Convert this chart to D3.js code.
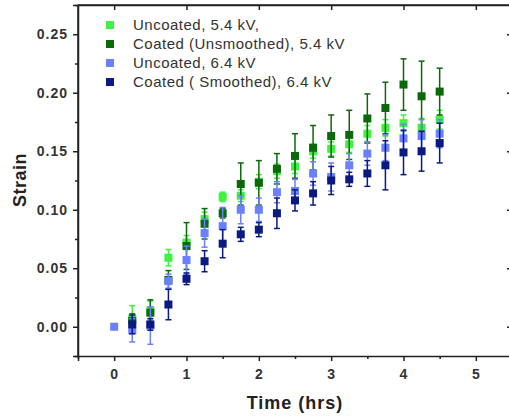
<!DOCTYPE html>
<html>
<head>
<meta charset="utf-8">
<script src="https://cdn.jsdelivr.net/npm/d3@7"></script>
<style>
  body { margin: 0; background: #fff; }
  svg text { font-family: "Liberation Sans", Arial, sans-serif; fill: #222; }
</style>
</head>
<body>
<div id="chart"></div>
<script>
var W = 509, H = 417;

// time points (hrs)
var times = [0, 0.25, 0.5, 0.75, 1, 1.25, 1.5, 1.75, 2, 2.25, 2.5, 2.75, 3, 3.25, 3.5, 3.75, 4, 4.25, 4.5];

var uncoated54 = [null, 0.007, 0.014, 0.059, 0.072, 0.092, 0.111, 0.112, 0.124, 0.133, 0.137, 0.150, 0.152, 0.156, 0.165, 0.170, 0.174, 0.170, 0.177];
var uncoated54Err = [null, 0.011, 0.008, 0.007, 0.006, 0.006, 0.004, 0.005, 0.006, 0.006, 0.006, 0.006, 0.006, 0.007, 0.007, 0.007, 0.007, 0.008, 0.008];

var coated54 = [null, 0.005, 0.012, 0.040, 0.069, 0.088, 0.097, 0.122, 0.123, 0.135, 0.146, 0.153, 0.163, 0.164, 0.178, 0.187, 0.207, 0.197, 0.201];
var coated54Err = [null, 0.006, 0.011, 0.008, 0.020, 0.013, 0.004, 0.018, 0.019, 0.013, 0.019, 0.019, 0.018, 0.021, 0.021, 0.022, 0.022, 0.030, 0.020];

var uncoated64 = [0.0, -0.003, 0.001, 0.039, 0.057, 0.080, 0.086, 0.100, 0.100, 0.115, 0.116, 0.131, 0.128, 0.138, 0.148, 0.153, 0.161, 0.163, 0.165];
var uncoated64Err = [0, 0.010, 0.016, 0.006, 0.012, 0.012, 0.016, 0.012, 0.010, 0.009, 0.010, 0.010, 0.012, 0.010, 0.010, 0.011, 0.012, 0.014, 0.012];

var coated64 = [null, 0.002, 0.002, 0.019, 0.041, 0.056, 0.071, 0.079, 0.083, 0.097, 0.108, 0.114, 0.125, 0.126, 0.131, 0.138, 0.149, 0.150, 0.157];
var coated64Err = [null, 0.008, 0.005, 0.013, 0.005, 0.009, 0.012, 0.006, 0.006, 0.013, 0.009, 0.010, 0.012, 0.006, 0.011, 0.021, 0.019, 0.017, 0.017];

var seriesNames = ["Uncoated, 5.4 kV,", "Coated (Unsmoothed), 5.4 kV", "Uncoated, 6.4 kV", "Coated ( Smoothed), 6.4 kV"];
var seriesColors = ["#3ff23f", "#0b690b", "#6a80ff", "#0a1a82"];
var seriesVals = [uncoated54, coated54, uncoated64, coated64];
var seriesErrs = [uncoated54Err, coated54Err, uncoated64Err, coated64Err];

var xTicks = [0, 1, 2, 3, 4, 5];
var yTicks = [0, 0.05, 0.10, 0.15, 0.20, 0.25];

var m = {left: 78, top: 5, right: 512, bottom: 356};

var x = d3.scaleLinear().domain([-0.5, 5.5]).range([m.left, m.right]);
var y = d3.scaleLinear().domain([-0.025, 0.275]).range([m.bottom, m.top]);

var svg = d3.select("#chart").append("svg")
    .attr("width", W)
    .attr("height", H);

// data
seriesVals.forEach(function(vals, s) {
    var pts = times.map(function(t, i) {
        return {t: t, v: vals[i], e: seriesErrs[s][i]};
    }).filter(function(d) { return d.v !== null; });

    var g = svg.append("g").attr("class", "series" + s);
    var col = seriesColors[s];

    g.selectAll("line.bar").data(pts).enter().append("line")
        .attr("class", "bar")
        .attr("x1", function(d) { return x(d.t); })
        .attr("x2", function(d) { return x(d.t); })
        .attr("y1", function(d) { return y(d.v - d.e); })
        .attr("y2", function(d) { return y(d.v + d.e); })
        .style("stroke", col).style("stroke-width", 1.5);

    [-1, 1].forEach(function(sign) {
        g.selectAll("line.cap" + sign).data(pts).enter().append("line")
            .attr("x1", function(d) { return x(d.t) - 3; })
            .attr("x2", function(d) { return x(d.t) + 3; })
            .attr("y1", function(d) { return y(d.v + sign * d.e); })
            .attr("y2", function(d) { return y(d.v + sign * d.e); })
            .style("stroke", col).style("stroke-width", 1.5);
    });

    g.selectAll("rect").data(pts).enter().append("rect")
        .attr("x", function(d) { return x(d.t) - 4; })
        .attr("y", function(d) { return y(d.v) - 4; })
        .attr("width", 8)
        .attr("height", 8)
        .style("fill", col);
});

// axes
var axisCol = "#222";
svg.append("g")
    .attr("transform", "translate(0," + m.bottom + ")")
    .call(d3.axisBottom(x).tickValues(xTicks).tickSize(5).tickPadding(8).tickFormat(d3.format("d")));
svg.append("g")
    .attr("transform", "translate(0," + m.bottom + ")")
    .call(d3.axisBottom(x).tickValues(d3.range(-0.5, 5.6, 0.5).filter(function(v) { return Math.abs(v % 1) > 0.1; })).tickSize(3).tickFormat(""))
    .select(".domain").remove();

svg.append("g")
    .attr("transform", "translate(" + m.left + ",0)")
    .call(d3.axisLeft(y).tickValues(yTicks).tickSize(5).tickPadding(5).tickFormat(d3.format(".2f")));
svg.append("g")
    .attr("transform", "translate(" + m.left + ",0)")
    .call(d3.axisLeft(y).tickValues([-0.025, 0.025, 0.075, 0.125, 0.175, 0.225, 0.275]).tickSize(3).tickFormat(""))
    .select(".domain").remove();

// top and right mirror axes with inward ticks
svg.append("g")
    .attr("transform", "translate(0," + m.top + ")")
    .call(d3.axisBottom(x).tickValues(xTicks).tickSize(5).tickSizeOuter(0).tickFormat(""));
svg.append("g")
    .attr("transform", "translate(" + m.right + ",0)")
    .call(d3.axisRight(y).tickValues(yTicks).tickSize(-5).tickSizeOuter(0).tickFormat(""));
svg.append("line")
    .attr("x1", m.left).attr("x2", m.right)
    .attr("y1", m.top).attr("y2", m.top);
svg.append("line")
    .attr("x1", m.left).attr("x2", m.left)
    .attr("y1", m.top).attr("y2", m.bottom);

svg.selectAll("path.domain, line")
    .filter(function() { return this.parentNode.classList.contains("tick") || this.tagName === "path" || this.parentNode.tagName === "svg"; })
    .style("stroke", axisCol).style("stroke-width", 1.5);

svg.selectAll(".tick text")
    .style("font-size", "14px")
    .style("font-weight", "bold")
    .style("letter-spacing", "1px")
    .style("fill", "#333");

// axis titles
svg.append("text")
    .attr("x", 295).attr("y", 409)
    .attr("text-anchor", "middle")
    .style("font-size", "18px").style("font-weight", "bold")
    .style("letter-spacing", "1px")
    .text("Time (hrs)");
svg.append("text")
    .attr("transform", "translate(26,180) rotate(-90)")
    .attr("text-anchor", "middle")
    .style("font-size", "18px").style("font-weight", "bold")
    .style("letter-spacing", "0.5px")
    .text("Strain");

// legend
var legend = svg.append("g");
seriesNames.forEach(function(name, i) {
    var ly = 25 + i * 19;
    legend.append("rect")
        .attr("x", 106).attr("y", ly - 4)
        .attr("width", 8).attr("height", 8)
        .style("fill", seriesColors[i]);
    legend.append("text")
        .attr("x", 133).attr("y", ly + 5)
        .style("font-size", "15px")
        .style("letter-spacing", "0.5px")
        .style("fill", "#333")
        .text(name);
});
</script>
</body>
</html>
